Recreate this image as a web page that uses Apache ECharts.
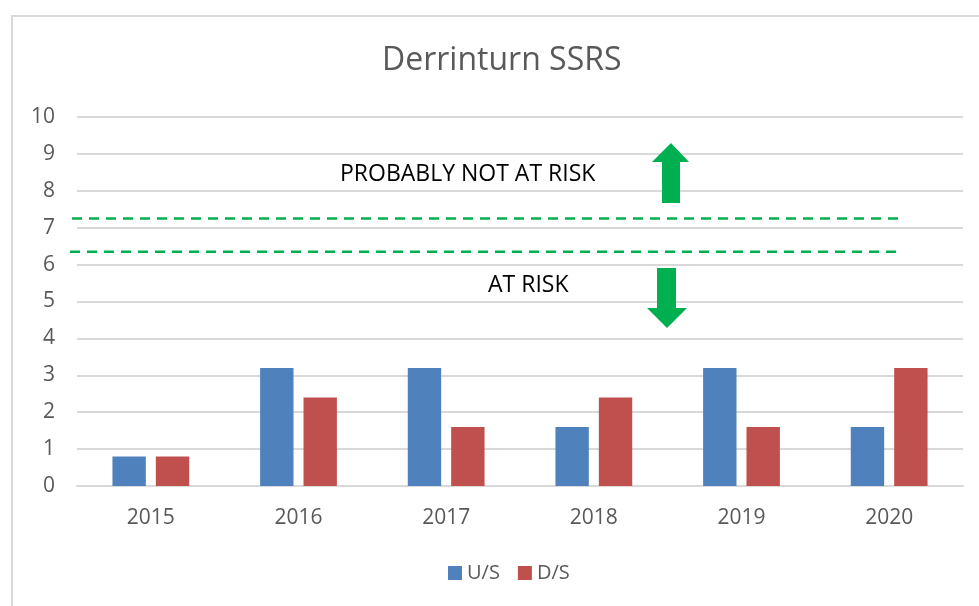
<!DOCTYPE html>
<html>
<head>
<meta charset="utf-8">
<script src="https://cdn.jsdelivr.net/npm/echarts@6/dist/echarts.min.js"></script>
<style>
  html, body { margin: 0; padding: 0; background: #fff; }
  #main { width: 979px; height: 606px; }
</style>
</head>
<body>
<div id="main"></div>
<script>
// chart data
const years = ['2015', '2016', '2017', '2018', '2019', '2020'];
const upstream = [0.8, 3.2, 3.2, 1.6, 3.2, 1.6];   // U/S
const downstream = [0.8, 2.4, 1.6, 2.4, 1.6, 3.2]; // D/S
const seriesNames = ['U/S', 'D/S'];
const thresholds = [7.25, 6.35]; // green dashed lines
const yTicks = { min: 0, max: 10, interval: 1 };

const FONT = '"Open Sans", sans-serif';
const GREEN = '#00B050';

const myChart = echarts.init(document.getElementById('main'));

const options = {
    animation: false,
    backgroundColor: '#fff',
    title: {
        text: 'Derrinturn SSRS',
        left: 382,
        top: 45,
        padding: 0,
        textStyle: { fontFamily: FONT, fontSize: 32, fontWeight: 'normal', color: '#595959' }
    },
    grid: { left: 77, right: 16, top: 117, bottom: 120 },
    legend: {
        data: seriesNames,
        left: 443,
        top: 558,
        icon: 'rect',
        itemWidth: 14,
        itemHeight: 14,
        itemGap: 18,
        textStyle: { fontFamily: FONT, fontSize: 20, color: '#595959' }
    },
    xAxis: {
        type: 'category',
        data: years,
        axisLine: { lineStyle: { color: '#d9d9d9', width: 2 } },
        axisTick: { show: false },
        axisLabel: { fontFamily: FONT, fontSize: 21, color: '#595959', margin: 22 }
    },
    yAxis: {
        type: 'value',
        min: yTicks.min,
        max: yTicks.max,
        interval: yTicks.interval,
        axisLine: { show: false },
        axisTick: { show: false },
        axisLabel: { fontFamily: FONT, fontSize: 21, color: '#595959', margin: 22 },
        splitLine: { lineStyle: { color: '#d9d9d9', width: 2 } }
    },
    series: [
        {
            name: seriesNames[0],
            type: 'bar',
            data: upstream,
            barGap: '30%',
            barCategoryGap: '48%',
            itemStyle: { color: '#4F81BD' }
        },
        {
            name: seriesNames[1],
            type: 'bar',
            data: downstream,
            itemStyle: { color: '#C0504D' }
        }
    ]
};

myChart.setOption(options);

// annotations drawn on top (Excel shapes)
const dashY = thresholds.map(v => myChart.convertToPixel({ yAxisIndex: 0 }, v));

myChart.setOption({
    graphic: [
        {
            type: 'rect',
            shape: { x: 12, y: 16, width: 1100, height: 800 },
            style: { fill: 'none', stroke: '#d9d9d9', lineWidth: 2 },
            silent: true
        },
        {
            type: 'line',
            shape: { x1: 72, y1: dashY[0], x2: 905, y2: dashY[0] },
            style: { stroke: GREEN, lineWidth: 2.5, lineDash: [10, 7] },
            z: 10
        },
        {
            type: 'line',
            shape: { x1: 70, y1: dashY[1], x2: 902, y2: dashY[1] },
            style: { stroke: GREEN, lineWidth: 2.5, lineDash: [10, 7] },
            z: 10
        },
        {
            type: 'text',
            left: 340,
            top: 163,
            style: { text: 'PROBABLY NOT AT RISK', font: '23px ' + FONT, fill: '#000' },
            z: 10
        },
        {
            type: 'text',
            left: 488,
            top: 274,
            style: { text: 'AT RISK', font: '23px ' + FONT, fill: '#000' },
            z: 10
        },
        {
            // up arrow
            type: 'polygon',
            shape: { points: [[671, 143], [689, 162], [680, 162], [680, 203], [662, 203], [662, 162], [652, 162]] },
            style: { fill: GREEN },
            z: 10
        },
        {
            // down arrow
            type: 'polygon',
            shape: { points: [[657, 268], [676, 268], [676, 308], [687, 308], [667, 328], [647, 308], [657, 308]] },
            style: { fill: GREEN },
            z: 10
        }
    ]
});
</script>
</body>
</html>
